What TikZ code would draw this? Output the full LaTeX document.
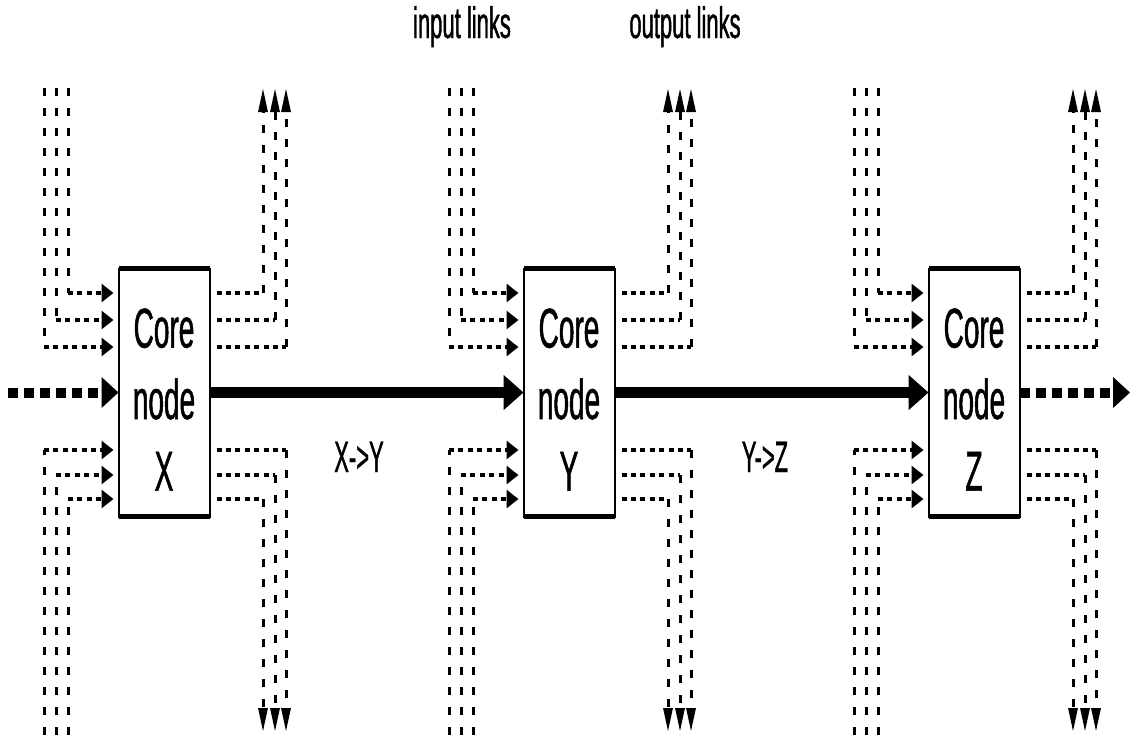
\documentclass[tikz,border=0pt]{standalone}
\usepackage{fontspec}
\setmainfont{Liberation Sans}
\newfontfamily\narrowsans[FakeStretch=0.5,FakeBold=0.9]{Liberation Sans}
\usetikzlibrary{arrows.meta}
\tikzset{
  corebox/.style={draw, line width=2pt, minimum width=91pt, minimum height=248pt,
    inner sep=0pt, outer sep=0pt, align=center,
    font=\narrowsans\fontsize{56}{71.5}\selectfont},
  boxrim/.style={line width=4.5pt},
  vline/.style={line width=3pt, dash pattern=on 8pt off 12pt},
  hline/.style={line width=4pt, dash pattern=on 5pt off 4.4pt},
  hin/.style={-{Triangle[length=12pt,width=18pt]}, shorten >=5pt},
  hout/.style={shorten <=7pt},
  vtip/.style={-{Triangle[length=24pt,width=9pt]}},
  thickdash/.style={line width=10pt, dash pattern=on 10pt off 6pt,
    -{Triangle[length=17pt,width=30pt]}},
  thicksolid/.style={line width=11pt, -{Triangle[length=20pt,width=34pt]}},
  lbl/.style={font=\narrowsans\fontsize{44}{44}\selectfont, inner sep=0pt, anchor=base}
}
\begin{document}
\begin{tikzpicture}[x=1pt,y=-1pt]
\useasboundingbox (0,0) rectangle (1131,740);
\foreach \N/\dx in {X/0,Y/405,Z/810}{
  \node[corebox] (\N) at (164+\dx,392.5) {\rule{0pt}{53pt}Core\\node\\\N};
  \draw[boxrim] (\N.north west) -- (\N.north east);
  \draw[boxrim] (\N.south west) -- (\N.south east);
  % top inputs
  \foreach \x/\y in {44/347,56/320,68/293}{
    \coordinate (\N-ti\x) at (\x+\dx,88);
    \coordinate (\N-tc\x) at (\x+\dx,\y);
    \draw[vline] (\N-ti\x) -- (\N-tc\x);
    \draw[hline,hin] (\N-tc\x) -- (\N-tc\x -| \N.west);
  }
  % bottom inputs
  \foreach \x/\y in {44/450,56/475,68/499}{
    \coordinate (\N-bi\x) at (\x+\dx,735);
    \coordinate (\N-bc\x) at (\x+\dx,\y);
    \draw[vline] (\N-bi\x) -- (\N-bc\x);
    \draw[hline,hin] (\N-bc\x) -- (\N-bc\x -| \N.west);
  }
  % top outputs
  \foreach \x/\y in {263/293,275/320,286/347}{
    \coordinate (\N-to\x) at (\x+\dx,88);
    \coordinate (\N-toc\x) at (\x+\dx,\y);
    \draw[hline,hout] (\N-toc\x -| \N.east) -- (\N-toc\x);
    \draw[vline,vtip] (\N-toc\x) -- (\N-to\x);
  }
  % bottom outputs
  \foreach \x/\y in {286/450,275/475,263/499}{
    \coordinate (\N-bo\x) at (\x+\dx,732);
    \coordinate (\N-boc\x) at (\x+\dx,\y);
    \draw[hline,hout] (\N-boc\x -| \N.east) -- (\N-boc\x);
    \draw[vline,vtip] (\N-boc\x) -- (\N-bo\x);
  }
}
\coordinate (src) at (8,392.5);
\coordinate (dst) at (1130,392.5);
\draw[thickdash] (src) -- (X.west);
\draw[thicksolid] (X.east) -- (Y.west);
\draw[thicksolid] (Y.east) -- (Z.west);
\draw[thickdash] (Z.east) -- (dst);
\node[lbl] (lin) at (462,38) {input links};
\node[lbl] (lout) at (685,38) {output links};
\node[lbl] (lxy) at (359,472) {X->Y};
\node[lbl] (lyz) at (765,472) {Y->Z};
\end{tikzpicture}
\end{document}
